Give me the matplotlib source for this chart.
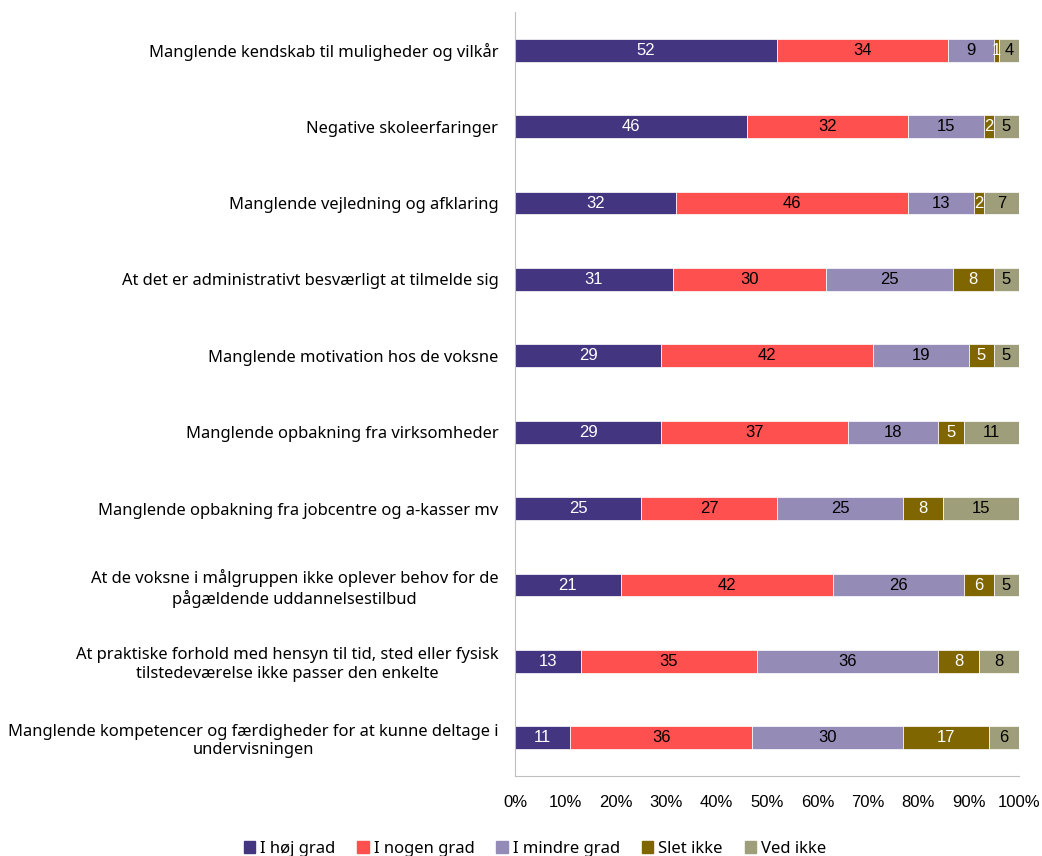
import numpy as np
import matplotlib.pyplot as plt
from matplotlib.patches import Patch

categories = [
    "Manglende kendskab til muligheder og vilkår",
    "Negative skoleerfaringer",
    "Manglende vejledning og afklaring",
    "At det er administrativt besværligt at tilmelde sig",
    "Manglende motivation hos de voksne",
    "Manglende opbakning fra virksomheder",
    "Manglende opbakning fra jobcentre og a-kasser mv",
    "At de voksne i målgruppen ikke oplever behov for de\npågældende uddannelsestilbud",
    "At praktiske forhold med hensyn til tid, sted eller fysisk\ntilstedeværelse ikke passer den enkelte",
    "Manglende kompetencer og færdigheder for at kunne deltage i\nundervisningen",
]
series = ["I høj grad", "I nogen grad", "I mindre grad", "Slet ikke", "Ved ikke"]
hoej = [52, 46, 32, 31, 29, 29, 25, 21, 13, 11]
nogen = [34, 32, 46, 30, 42, 37, 27, 42, 35, 36]
mindre = [9, 15, 13, 25, 19, 18, 25, 26, 36, 30]
slet = [1, 2, 2, 8, 5, 5, 8, 6, 8, 17]
vedikke = [4, 5, 7, 5, 5, 11, 15, 5, 8, 6]

colors = ["#433580", "#FF5050", "#948BB7", "#806600", "#9E9E7A"]
text_colors = ["white", "black", "black", "white", "black"]

data = np.array([hoej, nogen, mindre, slet, vedikke], dtype=float)
shares = data / data.sum(axis=0) * 100

fig = plt.figure(figsize=(10.42, 8.56), dpi=100)
ax = fig.add_axes([515 / 1042, 1 - 776 / 856, 504 / 1042, 764 / 856])

y = np.arange(len(categories))
left = np.zeros(len(categories))
for i, name in enumerate(series):
    bars = ax.barh(y, shares[i], left=left, height=0.3, color=colors[i],
                   edgecolor="white", linewidth=0.5, label=name)
    for j, b in enumerate(bars):
        ax.text(left[j] + shares[i][j] / 2, y[j], f"{int(data[i][j])}",
                ha="center", va="center", color=text_colors[i],
                fontsize=12, family="Liberation Sans")
    left += shares[i]

ax.set_xlim(0, 100)
ax.set_ylim(len(categories) - 0.5, -0.5)
ax.set_yticks(y)
ax.set_yticklabels(categories, family="Noto Sans", fontsize=11.9,
                   ha="right", multialignment="center")
ax.tick_params(axis="y", length=0, pad=12)
ax.set_xticks(np.arange(0, 101, 10))
ax.set_xticklabels([f"{v}%" for v in range(0, 101, 10)],
                   family="Liberation Sans", fontsize=12)
ax.tick_params(axis="x", length=0, pad=14)
for s in ["top", "right"]:
    ax.spines[s].set_visible(False)
for s in ["left", "bottom"]:
    ax.spines[s].set_color("#BFBFBF")

handles = [Patch(color=c, label=n) for c, n in zip(colors, series)]
fig.legend(handles=handles, loc="center", bbox_to_anchor=(535 / 1042, 1 - 849 / 856),
           ncol=5, frameon=False, prop={"family": "Noto Sans", "size": 12},
           handlelength=0.7, handleheight=0.7, handletextpad=0.3, columnspacing=1.3)

fig.savefig("out.png", dpi=100)
